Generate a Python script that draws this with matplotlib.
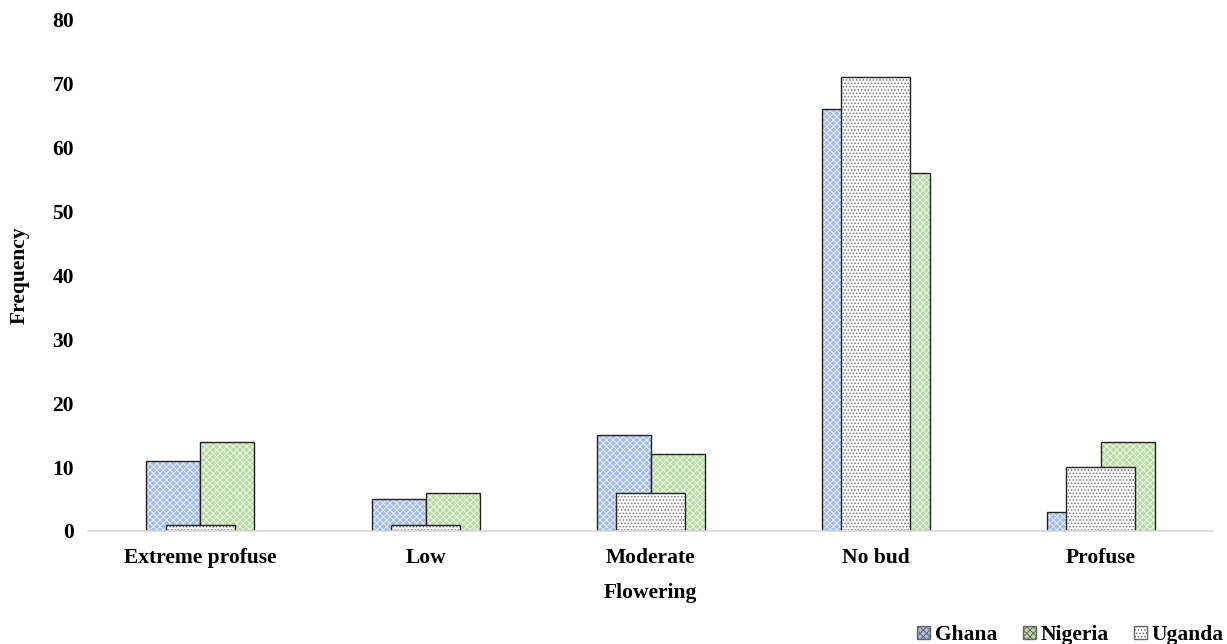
import numpy as np
import matplotlib.pyplot as plt
from matplotlib.patches import Patch

plt.rcParams['font.family'] = 'Liberation Serif'
plt.rcParams['font.weight'] = 'bold'
plt.rcParams['axes.labelweight'] = 'bold'
plt.rcParams['hatch.linewidth'] = 0.7

categories = ['Extreme profuse', 'Low', 'Moderate', 'No bud', 'Profuse']
ghana = [11, 5, 15, 66, 3]
nigeria = [14, 6, 12, 56, 14]
uganda = [1, 1, 6, 71, 10]

x = np.arange(len(categories))
w = 0.24
wu = 0.31

fig = plt.figure(figsize=(12.27, 6.44), dpi=100)
ax = fig.add_axes([0.0717, 0.1755, 0.917, 0.7935])


def hbar(pos, vals, width, fc, hc, hatch):
    # fill, then the hatch in its own colour, then the black outline
    ax.bar(pos, vals, width, color=fc, linewidth=0)
    ax.bar(pos, vals, width, facecolor='none', edgecolor=hc, hatch=hatch, linewidth=0)
    ax.bar(pos, vals, width, facecolor='none', edgecolor='#222222', linewidth=1.0)


hbar(x - w / 2, ghana, w, '#a3bce3', '#e8eef8', 'xxxxx')
hbar(x + w / 2, nigeria, w, '#b9dba5', '#eef6e8', 'xxxxx')
hbar(x, uganda, wu, 'white', '#777777', '.....')

ax.set_xlim(-0.5, len(categories) - 0.5)
ax.set_ylim(0, 80)
ax.set_yticks(range(0, 81, 10))
ax.set_xticks(x)
ax.set_xticklabels(categories)
ax.tick_params(axis='x', length=0, labelsize=15.5, pad=12)
ax.tick_params(axis='y', length=0, labelsize=15.5, pad=10)
for s in ['top', 'right', 'left']:
    ax.spines[s].set_visible(False)
ax.spines['bottom'].set_color('#d9d9d9')
ax.spines['bottom'].set_linewidth(1.2)

ax.set_ylabel('Frequency', fontsize=15.5, labelpad=16)
ax.set_xlabel('Flowering', fontsize=15.5, labelpad=11)

handles = [
    Patch(facecolor='#a3bce3', edgecolor='#666666', hatch='xxxxx', label='Ghana'),
    Patch(facecolor='#b9dba5', edgecolor='#666666', hatch='xxxxx', label='Nigeria'),
    Patch(facecolor='white', edgecolor='#666666', hatch='.....', label='Uganda'),
]
fig.legend(handles=handles, loc='lower right', bbox_to_anchor=(1.013, -0.032), ncol=3,
           frameon=False, fontsize=15.5, handlelength=0.6, handleheight=0.6,
           handletextpad=0.2, columnspacing=1.2)

fig.savefig('out.png', dpi=100)
